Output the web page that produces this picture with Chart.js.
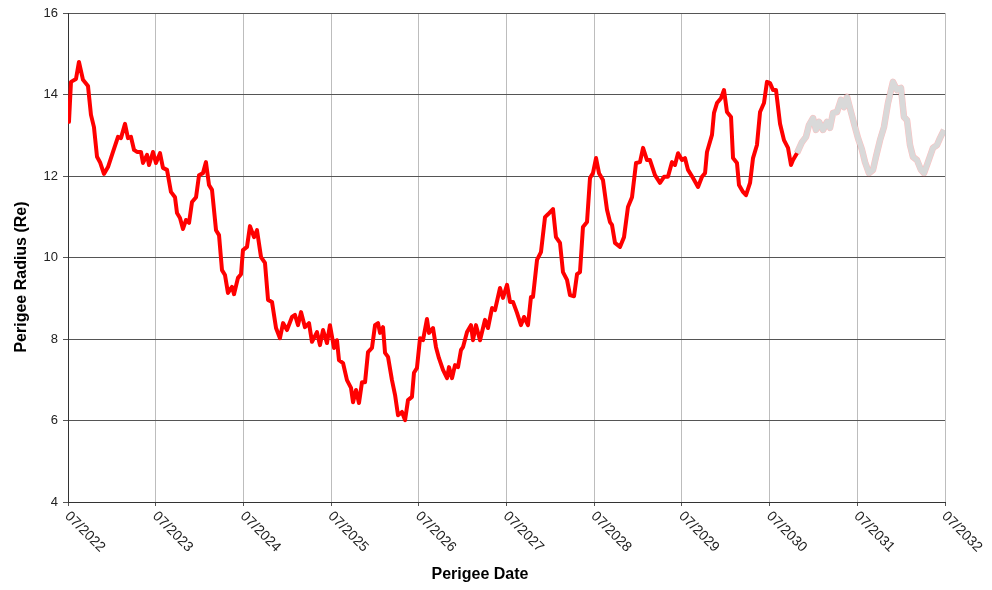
<!DOCTYPE html>
<html>
<head>
<meta charset="utf-8">
<script src="https://cdn.jsdelivr.net/npm/chart.js@4"></script>
<style>
  body { margin: 0; background: #fff; }
  #wrap { width: 992px; height: 590px; }
</style>
</head>
<body>
<div id="wrap">
  <canvas id="perigeeChart" width="992" height="590"></canvas>
</div>

<script>
  // perigee radius (Re) vs decimal year
  const redYears = [
    2022.511, 2022.534, 2022.591, 2022.625, 2022.671, 2022.728, 2022.762, 2022.796, 2022.831, 2022.865,
    2022.910, 2022.956, 2023.013, 2023.070, 2023.104, 2023.150, 2023.184, 2023.218, 2023.253, 2023.287,
    2023.332, 2023.355, 2023.401, 2023.424, 2023.469, 2023.503, 2023.549, 2023.583, 2023.629, 2023.674,
    2023.720, 2023.743, 2023.777, 2023.811, 2023.845, 2023.880, 2023.914, 2023.960, 2023.994, 2024.039,
    2024.073, 2024.108, 2024.142, 2024.188, 2024.222, 2024.256, 2024.290, 2024.324, 2024.370, 2024.393,
    2024.438, 2024.473, 2024.495, 2024.541, 2024.575, 2024.621, 2024.655, 2024.701, 2024.746, 2024.781,
    2024.826, 2024.872, 2024.917, 2024.952, 2024.997, 2025.054, 2025.088, 2025.123, 2025.157, 2025.202,
    2025.248, 2025.282, 2025.339, 2025.373, 2025.408, 2025.453, 2025.487, 2025.533, 2025.567, 2025.590,
    2025.636, 2025.681, 2025.727, 2025.750, 2025.784, 2025.818, 2025.852, 2025.887, 2025.921, 2025.966,
    2026.001, 2026.035, 2026.058, 2026.092, 2026.115, 2026.149, 2026.194, 2026.229, 2026.263, 2026.308,
    2026.343, 2026.377, 2026.422, 2026.445, 2026.479, 2026.514, 2026.548, 2026.593, 2026.616, 2026.662,
    2026.696, 2026.730, 2026.776, 2026.822, 2026.844, 2026.879, 2026.913, 2026.947, 2026.981, 2027.004,
    2027.050, 2027.095, 2027.118, 2027.152, 2027.198, 2027.255, 2027.289, 2027.335, 2027.369, 2027.426,
    2027.460, 2027.506, 2027.540, 2027.574, 2027.620, 2027.665, 2027.700, 2027.745, 2027.779, 2027.802,
    2027.848, 2027.893, 2027.939, 2027.973, 2028.030, 2028.064, 2028.110, 2028.144, 2028.190, 2028.224,
    2028.270, 2028.304, 2028.338, 2028.372, 2028.418, 2028.452, 2028.486, 2028.521, 2028.555, 2028.600,
    2028.646, 2028.680, 2028.703, 2028.737, 2028.794, 2028.840, 2028.885, 2028.931, 2028.977, 2029.022,
    2029.057, 2029.102, 2029.136, 2029.193, 2029.250, 2029.296, 2029.341, 2029.387, 2029.421, 2029.456,
    2029.501, 2029.535, 2029.570, 2029.627, 2029.684, 2029.729, 2029.764, 2029.786, 2029.843, 2029.866,
    2029.900, 2029.946, 2029.980, 2030.014, 2030.060, 2030.083, 2030.128, 2030.151, 2030.197, 2030.231,
    2030.277, 2030.311, 2030.356, 2030.391, 2030.436, 2030.470, 2030.505, 2030.539, 2030.573, 2030.619,
    2030.664, 2030.710, 2030.744, 2030.767, 2030.812
  ];
  const redRadius = [
    13.33, 14.31, 14.38, 14.80, 14.36, 14.21, 13.50, 13.20, 12.47, 12.34,
    12.05, 12.22, 12.59, 12.96, 12.93, 13.28, 12.93, 12.96, 12.64, 12.59,
    12.59, 12.32, 12.52, 12.27, 12.59, 12.32, 12.56, 12.20, 12.15, 11.61,
    11.48, 11.09, 10.97, 10.70, 10.92, 10.85, 11.36, 11.48, 12.02, 12.07,
    12.34, 11.78, 11.66, 10.67, 10.55, 9.69, 9.57, 9.13, 9.28, 9.10,
    9.50, 9.59, 10.18, 10.26, 10.77, 10.50, 10.67, 10.01, 9.87, 8.96,
    8.91, 8.27, 8.02, 8.39, 8.22, 8.54, 8.59, 8.34, 8.66, 8.29,
    8.39, 7.93, 8.17, 7.85, 8.22, 7.90, 8.34, 7.78, 7.97, 7.48,
    7.41, 6.99, 6.80, 6.45, 6.75, 6.43, 6.94, 6.94, 7.68, 7.78,
    8.34, 8.39, 8.15, 8.29, 7.66, 7.56, 6.99, 6.63, 6.13, 6.21,
    6.01, 6.50, 6.58, 7.17, 7.29, 8.02, 7.97, 8.49, 8.15, 8.27,
    7.80, 7.53, 7.24, 7.04, 7.31, 7.04, 7.36, 7.31, 7.73, 7.80,
    8.17, 8.34, 7.97, 8.34, 7.97, 8.47, 8.27, 8.76, 8.71, 9.25,
    9.01, 9.33, 8.91, 8.91, 8.64, 8.34, 8.54, 8.34, 9.03, 9.03,
    9.94, 10.13, 10.99, 11.06, 11.19, 10.50, 10.36, 9.64, 9.45, 9.08,
    9.05, 9.59, 9.64, 10.75, 10.87, 11.95, 12.07, 12.44, 12.07, 11.90,
    11.17, 10.87, 10.80, 10.36, 10.26, 10.50, 11.24, 11.48, 12.32, 12.34,
    12.69, 12.39, 12.39, 12.02, 11.83, 11.98, 11.98, 12.34, 12.27, 12.56,
    12.39, 12.44, 12.15, 11.95, 11.73, 11.98, 12.07, 12.59, 13.01, 13.55,
    13.79, 13.91, 14.11, 13.57, 13.45, 12.44, 12.32, 11.78, 11.61, 11.53,
    11.83, 12.44, 12.76, 13.57, 13.79, 14.31, 14.28, 14.11, 14.11, 13.28,
    12.88, 12.69, 12.27, 12.39, 12.56
  ];
  const greyYears = [
    2030.812, 2030.869, 2030.915, 2030.949, 2030.995, 2031.029, 2031.063, 2031.109, 2031.155, 2031.189,
    2031.223, 2031.269, 2031.314, 2031.348, 2031.383, 2031.428, 2031.474, 2031.508, 2031.554, 2031.588,
    2031.633, 2031.679, 2031.713, 2031.759, 2031.804, 2031.850, 2031.907, 2031.953, 2031.998, 2032.032,
    2032.067, 2032.101, 2032.135, 2032.181, 2032.226, 2032.261, 2032.306, 2032.363, 2032.409, 2032.443,
    2032.489
  ];
  const greyRadius = [
    12.56, 12.83, 12.96, 13.25, 13.42, 13.13, 13.33, 13.13, 13.33, 13.18,
    13.55, 13.57, 13.87, 13.69, 13.94, 13.57, 13.20, 12.93, 12.64, 12.34,
    12.07, 12.15, 12.47, 12.88, 13.20, 13.79, 14.31, 14.11, 14.16, 13.45,
    13.37, 12.76, 12.47, 12.39, 12.15, 12.07, 12.34, 12.69, 12.76, 12.93,
    13.13
  ];
  const xTickValues = [2022.5, 2023.5, 2024.5, 2025.5, 2026.5, 2027.5, 2028.5, 2029.5, 2030.5, 2031.5, 2032.5];
  const xTickLabels = ['07/2022', '07/2023', '07/2024', '07/2025', '07/2026', '07/2027',
                       '07/2028', '07/2029', '07/2030', '07/2031', '07/2032'];

  const toPoints = (xs, ys) => xs.map((x, i) => ({ x: x, y: ys[i] }));

  // rotated date labels + axis titles, drawn like the original spreadsheet chart
  const labelPlugin = {
    id: 'labels',
    afterDraw(chart) {
      const ctx = chart.ctx;
      const xs = chart.scales.x;
      const area = chart.chartArea;
      ctx.save();
      ctx.fillStyle = '#222';
      ctx.font = '14px "Liberation Sans", Arial, sans-serif';
      ctx.textAlign = 'left';
      ctx.textBaseline = 'top';
      xTickValues.forEach((v, i) => {
        const px = xs.getPixelForValue(v);
        ctx.save();
        ctx.translate(px + 4, area.bottom + 7);
        ctx.rotate(Math.PI / 4);
        ctx.fillText(xTickLabels[i], 0, 0);
        ctx.restore();
      });

      ctx.fillStyle = '#000';
      ctx.font = 'bold 16px "Liberation Sans", Arial, sans-serif';
      ctx.textAlign = 'center';
      ctx.textBaseline = 'middle';
      ctx.fillText('Perigee Date', 480, 575);

      ctx.save();
      ctx.translate(22, 277);
      ctx.rotate(-Math.PI / 2);
      ctx.fillText('Perigee Radius (Re)', 0, 0);
      ctx.restore();
      ctx.restore();
    }
  };

  const chart = new Chart(document.getElementById('perigeeChart').getContext('2d'), {
    type: 'line',
    data: {
      datasets: [
        {
          label: 'Predicted',
          data: toPoints(greyYears, greyRadius),
          borderColor: '#d9d9d9',
          borderWidth: 5.5,
          borderJoinStyle: 'round',
          pointRadius: 0,
          tension: 0,
          order: 0
        },
        {
          label: 'Predicted edge',
          data: toPoints(greyYears, greyRadius),
          borderColor: 'rgba(255, 70, 70, 0.35)',
          borderWidth: 6.5,
          borderJoinStyle: 'round',
          pointRadius: 0,
          tension: 0,
          order: 1
        },
        {
          label: 'Perigee Radius',
          data: toPoints(redYears, redRadius),
          borderColor: '#ff0000',
          borderWidth: 4,
          borderJoinStyle: 'round',
          borderCapStyle: 'round',
          pointRadius: 0,
          tension: 0,
          order: 2
        }
      ]
    },
    options: {
      responsive: false,
      animation: false,
      layout: { padding: { top: 13, right: 47, bottom: 0, left: 0 } },
      plugins: {
        legend: { display: false },
        tooltip: { enabled: false }
      },
      scales: {
        x: {
          type: 'linear',
          min: 2022.5,
          max: 2032.5,
          afterBuildTicks(scale) {
            scale.ticks = xTickValues.map(v => ({ value: v }));
          },
          afterFit(scale) { scale.height = 88; },
          ticks: { display: false },
          grid: { color: '#bdbdbd', lineWidth: 1, tickLength: 4, tickColor: '#555' },
          border: { color: '#333', width: 1 }
        },
        y: {
          min: 4,
          max: 16,
          ticks: {
            stepSize: 2,
            padding: 5,
            color: '#222',
            font: { family: '"Liberation Sans", Arial, sans-serif', size: 13 }
          },
          afterFit(scale) { scale.width = 68; },
          grid: { color: '#555', lineWidth: 1, tickLength: 5 },
          border: { color: '#333', width: 1 }
        }
      }
    },
    plugins: [labelPlugin]
  });
</script>
</body>
</html>
